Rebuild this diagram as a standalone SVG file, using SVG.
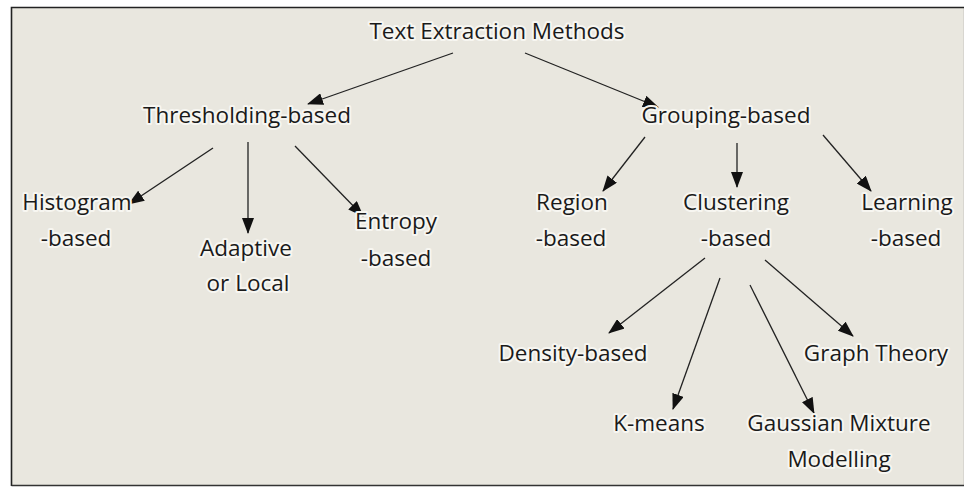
<svg xmlns="http://www.w3.org/2000/svg" width="968" height="488" viewBox="0 0 968 488">
<style>
.t{font-family:"Open Sans","Liberation Sans",sans-serif;font-size:22.5px;fill:#1a1a1a;text-anchor:middle;stroke:#f7f6f1;stroke-width:4px;paint-order:stroke;stroke-linejoin:round}
.c line{stroke:#222;stroke-width:1.3;marker-end:url(#ah)}
</style>
<defs>
<marker id="ah" viewBox="0 0 16 12" refX="15" refY="6" markerWidth="16" markerHeight="12" markerUnits="userSpaceOnUse" orient="auto">
<path d="M0,0 L16,6 L0,12 Z" fill="#111"/>
</marker>
</defs>
<rect width="968" height="488" fill="#ffffff"/>
<rect x="11.5" y="7.5" width="952" height="478" fill="#e9e7df" stroke="#d8d6d0" stroke-width="1"/>
<path d="M11.5,486 V7.5 H964" fill="none" stroke="#222" stroke-width="1.6"/>
<path d="M11.5,485.5 H964" fill="none" stroke="#333" stroke-width="1.6"/>
<g class="c" id="connectors">
<line x1="453" y1="53" x2="308" y2="104"/>
<line x1="525" y1="53" x2="658" y2="107"/>
<line x1="213" y1="148" x2="129" y2="204"/>
<line x1="248" y1="142" x2="248" y2="233"/>
<line x1="295" y1="146" x2="363" y2="216"/>
<line x1="645" y1="137" x2="603" y2="191"/>
<line x1="737" y1="143" x2="737" y2="187"/>
<line x1="823" y1="135" x2="871" y2="191"/>
<line x1="705" y1="258" x2="609" y2="333"/>
<line x1="720" y1="278" x2="673" y2="409"/>
<line x1="750" y1="285" x2="814" y2="413"/>
<line x1="765" y1="260" x2="853" y2="336"/>
</g>
<g id="root"><text class="t" x="497" y="39">Text Extraction Methods</text></g>
<g id="thresholding"><text class="t" x="247" y="123">Thresholding-based</text></g>
<g id="grouping"><text class="t" x="726" y="123">Grouping-based</text></g>
<g id="histogram"><text class="t" x="77" y="210">Histogram</text><text class="t" x="76" y="246">-based</text></g>
<g id="adaptive"><text class="t" x="246" y="256">Adaptive</text><text class="t" x="248" y="291">or Local</text></g>
<g id="entropy"><text class="t" x="396" y="229">Entropy</text><text class="t" x="396" y="266">-based</text></g>
<g id="region"><text class="t" x="572" y="210">Region</text><text class="t" x="571" y="246">-based</text></g>
<g id="clustering"><text class="t" x="736" y="210">Clustering</text><text class="t" x="736" y="246">-based</text></g>
<g id="learning"><text class="t" x="907" y="210">Learning</text><text class="t" x="906" y="246">-based</text></g>
<g id="density"><text class="t" x="573" y="361">Density-based</text></g>
<g id="graph"><text class="t" x="876" y="361">Graph Theory</text></g>
<g id="kmeans"><text class="t" x="659" y="431">K-means</text></g>
<g id="gmm"><text class="t" x="839" y="431">Gaussian Mixture</text><text class="t" x="839" y="467">Modelling</text></g>
</svg>
